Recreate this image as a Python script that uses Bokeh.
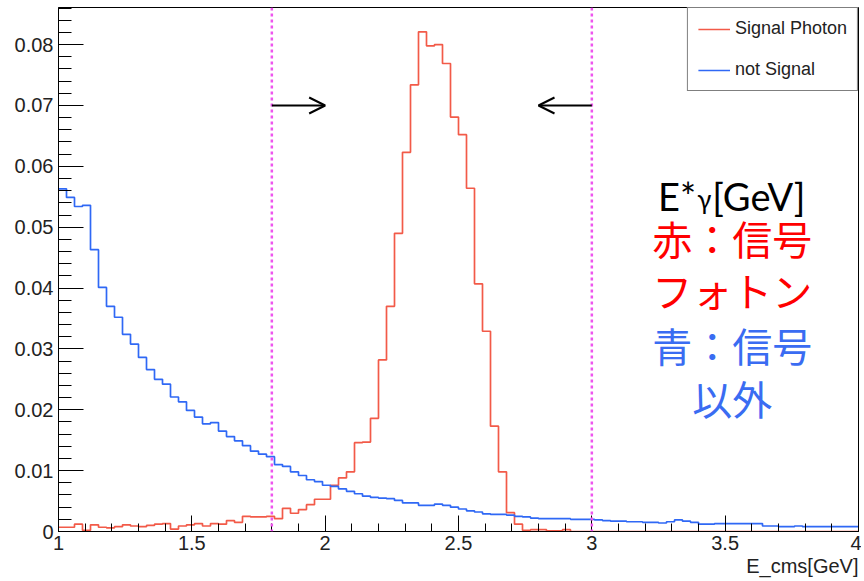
import numpy as np
from bokeh.plotting import figure
from bokeh.models import (Range1d, FixedTicker, CustomJSTickFormatter, Span,
                          Arrow, OpenHead, Label, Title)
from bokeh.embed import file_html
from bokeh.resources import INLINE

# ---------------- data ----------------
X_MIN, X_MAX = 1.0, 4.0
Y_MAX = 0.0861

signal_photon = [
    0.0007, 0.0007, 0.0012, 0.0002, 0.0011, 0.0007, 0.0006, 0.0008, 0.0011, 0.0009,
    0.0008, 0.0010, 0.0012, 0.0013, 0.0004, 0.0009, 0.0011, 0.0013, 0.0009, 0.0013,
    0.0012, 0.0018, 0.0015, 0.0025, 0.0024, 0.0024, 0.0025, 0.0021, 0.0038, 0.0030,
    0.0036, 0.0044, 0.0053, 0.0053, 0.0076, 0.0088, 0.0098, 0.0146, 0.0147, 0.0186,
    0.0282, 0.0370, 0.0490, 0.0623, 0.0734, 0.0821, 0.0798, 0.0800, 0.0769, 0.0681,
    0.0652, 0.0564, 0.0407, 0.0329, 0.0173, 0.0098, 0.0031, 0.0012, 0.0002, 0.0003,
    0.0003, 0.0001, 0.0001, 0.0003, 0.0, 0.0, 0.0, 0.0, 0.0, 0.0,
    0.0, 0.0, 0.0, 0.0, 0.0, 0.0, 0.0, 0.0, 0.0, 0.0,
    0.0, 0.0, 0.0, 0.0, 0.0, 0.0, 0.0, 0.0, 0.0, 0.0,
    0.0, 0.0, 0.0, 0.0, 0.0, 0.0, 0.0, 0.0, 0.0, 0.0,
]

not_signal = [
    0.0563, 0.0549, 0.0534, 0.0536, 0.0463, 0.0401, 0.0370, 0.0352, 0.0324, 0.0308,
    0.0286, 0.0266, 0.0250, 0.0242, 0.0221, 0.0213, 0.0199, 0.0188, 0.0177, 0.0179,
    0.0165, 0.0156, 0.0149, 0.0141, 0.0132, 0.0127, 0.0123, 0.0110, 0.0107, 0.0098,
    0.0092, 0.0085, 0.0082, 0.0076, 0.0074, 0.0070, 0.0066, 0.0062, 0.0058, 0.0056,
    0.0055, 0.0054, 0.0051, 0.0047, 0.0047, 0.0043, 0.0043, 0.0045, 0.0043, 0.0040,
    0.0037, 0.0034, 0.0032, 0.0029, 0.0028, 0.0028, 0.0027, 0.0025, 0.0024, 0.0022,
    0.0021, 0.0021, 0.0021, 0.0021, 0.0020, 0.0020, 0.0020, 0.0019, 0.0018, 0.0017,
    0.0017, 0.0016, 0.0016, 0.0015, 0.0015, 0.0014, 0.0016, 0.0019, 0.0017, 0.0015,
    0.0012, 0.0012, 0.0013, 0.0013, 0.0013, 0.0013, 0.0013, 0.0013, 0.0009, 0.0009,
    0.0008, 0.0008, 0.0009, 0.0008, 0.0008, 0.0008, 0.0008, 0.0008, 0.0008, 0.0008,
]

series_names = ["Signal Photon", "not Signal"]
cut_low, cut_high = 1.8, 3.0
arrow_y = 0.07
arrow_len = 0.2

x_ticks = [1.0, 1.5, 2.0, 2.5, 3.0, 3.5, 4.0]
y_ticks = [0.0, 0.01, 0.02, 0.03, 0.04, 0.05, 0.06, 0.07, 0.08]
x_axis_title = "E_cms[GeV]"

# ---------------- figure ----------------
n_bins = len(signal_photon)
edges = np.linspace(X_MIN, X_MAX, n_bins + 1)

p = figure(width=861, height=579, output_backend="svg", toolbar_location=None,
           x_range=Range1d(X_MIN, X_MAX), y_range=Range1d(0, Y_MAX),
           min_border_left=58, min_border_right=3, min_border_top=7,
           min_border_bottom=48)
p.xgrid.visible = False
p.ygrid.visible = False
p.outline_line_color = "black"
p.outline_line_width = 1
p.background_fill_color = "white"
p.border_fill_color = "white"

RED = "#F25A48"
BLUE = "#2F68F5"

p.step(list(edges), list(signal_photon) + [signal_photon[-1]], mode="after",
       line_color=RED, line_width=1.7, legend_label=series_names[0])
p.step(list(edges), list(not_signal) + [not_signal[-1]], mode="after",
       line_color=BLUE, line_width=1.7, legend_label=series_names[1])

# cut lines
for loc in (cut_low, cut_high):
    p.add_layout(Span(location=loc, dimension="height", line_color="#EE55EE",
                      line_width=2.5, line_dash="3 3"))

# arrows
p.add_layout(Arrow(x_start=cut_low, y_start=arrow_y, x_end=cut_low + arrow_len, y_end=arrow_y,
                   line_color="black", line_width=2,
                   end=OpenHead(size=16, line_color="black", line_width=2)))
p.add_layout(Arrow(x_start=cut_high, y_start=arrow_y, x_end=cut_high - arrow_len, y_end=arrow_y,
                   line_color="black", line_width=2,
                   end=OpenHead(size=16, line_color="black", line_width=2)))

# axes
for ax in (p.xaxis[0], p.yaxis[0]):
    ax.axis_line_color = "black"
    ax.major_tick_line_color = "black"
    ax.minor_tick_line_color = "black"
    ax.major_tick_out = 0
    ax.minor_tick_out = 0
    ax.major_label_text_font = "Liberation Sans"
    ax.major_label_text_font_size = "20px"
    ax.major_label_text_color = "#222222"

p.xaxis[0].ticker = FixedTicker(ticks=x_ticks,
                                minor_ticks=list(np.round(np.arange(X_MIN, X_MAX + 1e-9, 0.1), 3)))
p.yaxis[0].ticker = FixedTicker(ticks=y_ticks,
                                minor_ticks=list(np.round(np.arange(0, Y_MAX, 0.002), 4)))
p.xaxis[0].major_tick_in = 16
p.xaxis[0].minor_tick_in = 8
p.yaxis[0].major_tick_in = 25
p.yaxis[0].minor_tick_in = 13
p.xaxis[0].major_label_standoff = 4
p.yaxis[0].major_label_standoff = 5
p.xaxis[0].formatter = CustomJSTickFormatter(
    code="return Number.isInteger(tick) ? tick.toFixed(0) : tick.toFixed(1);")
p.yaxis[0].formatter = CustomJSTickFormatter(
    code="return Math.abs(tick) < 1e-12 ? '0' : tick.toFixed(2);")

xa = p.xaxis[0]
try:
    xa.axis_label_align = "right"
    xa.axis_label = x_axis_title
    xa.axis_label_standoff = 0
    xa.axis_label_text_font = "Liberation Sans"
    xa.axis_label_text_font_size = "20px"
    xa.axis_label_text_font_style = "normal"
    xa.axis_label_text_color = "#222222"
except Exception:
    p.add_layout(Title(text=x_axis_title, align="right", standoff=0,
                       text_font="Liberation Sans", text_font_size="20px",
                       text_font_style="normal", text_color="#222222"), "below")

# legend
lg = p.legend[0]
lg.location = "top_right"
lg.margin = 0
lg.border_line_color = "black"
lg.border_line_width = 1
lg.background_fill_alpha = 1.0
lg.label_text_font = "Liberation Sans"
lg.label_text_font_size = "18px"
lg.label_text_color = "#222222"
lg.glyph_width = 32
lg.glyph_height = 20
lg.label_height = 20
lg.spacing = 20
lg.padding = 10
lg.label_standoff = 5

# overlay texts (positions from page pixels)
def xd(px):
    return X_MIN + (px - 59.3) / 266.67

def yd(py):
    return (532.0 - py) / 6085.0

p.add_layout(Label(x=xd(697), y=yd(197), text="E*", text_align="right",
                   text_baseline="alphabetic", text_font="Lato",
                   text_font_size="38px", text_color="black"))
p.add_layout(Label(x=xd(698), y=yd(200), text="γ", text_align="left",
                   text_baseline="alphabetic", text_font="Lato",
                   text_font_size="26px", text_color="black"))
p.add_layout(Label(x=xd(713), y=yd(197), text="[GeV]", text_align="left",
                   text_baseline="alphabetic", text_font="Lato",
                   text_font_size="38px", text_color="black"))

jp_lines = [("赤：信号", 239, "#FF0000"), ("フォトン", 291, "#FF0000"),
            ("青：信号", 346, "#3A6CF2"), ("以外", 399, "#3A6CF2")]
for txt, py, col in jp_lines:
    p.add_layout(Label(x=xd(733), y=yd(py), text=txt, text_align="center",
                       text_baseline="middle", text_font="Noto Sans CJK JP",
                       text_font_size="40px", text_color=col))

open("out.html", "w").write(file_html(p, INLINE))
